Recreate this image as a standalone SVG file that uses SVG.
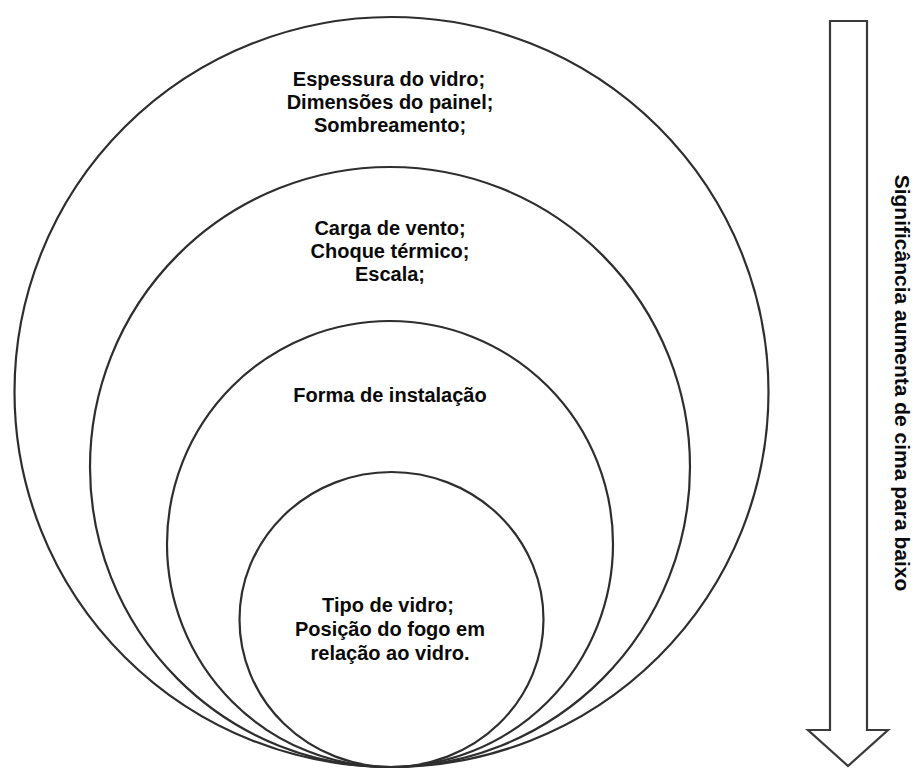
<svg xmlns="http://www.w3.org/2000/svg" width="917" height="769" viewBox="0 0 917 769">
<style>
.ring{fill:none;stroke:#2e2e2e;stroke-width:2.2}
.lbl{font-family:"Liberation Sans",Arial,sans-serif;font-weight:bold;font-size:20px;fill:#0a0a0a;text-anchor:middle}
.arrow{fill:#fff;stroke:#3a3a3a;stroke-width:2.2;stroke-linejoin:miter}
</style>
<rect width="917" height="769" fill="#fff"/>
<g id="ring-outer">
<ellipse class="ring" cx="391.5" cy="392" rx="377" ry="375"/>
<text class="lbl" x="389" y="86">Espessura do vidro;</text>
<text class="lbl" x="390" y="109">Dimensões do painel;</text>
<text class="lbl" x="390" y="132">Sombreamento;</text>
</g>
<g id="ring-second">
<circle class="ring" cx="390" cy="467" r="300"/>
<text class="lbl" x="390" y="235">Carga de vento;</text>
<text class="lbl" x="390" y="258">Choque térmico;</text>
<text class="lbl" x="390" y="281">Escala;</text>
</g>
<g id="ring-third">
<circle class="ring" cx="390" cy="544" r="223"/>
<text class="lbl" x="390" y="402">Forma de instalação</text>
</g>
<g id="ring-inner">
<ellipse class="ring" cx="391.5" cy="619.5" rx="152" ry="147.5"/>
<text class="lbl" x="388" y="612">Tipo de vidro;</text>
<text class="lbl" x="390" y="636">Posição do fogo em</text>
<text class="lbl" x="390" y="660">relação ao vidro.</text>
</g>
<g id="connectors">
<g id="significance-arrow">
<polygon class="arrow" points="830,21 867,21 867,730 888,730 848,766 808,730 830,730"/>
<text class="lbl" font-size="21" style="font-size:21px" transform="translate(895,383) rotate(90)">Significância aumenta de cima para baixo</text>
</g>
</g>
</svg>
